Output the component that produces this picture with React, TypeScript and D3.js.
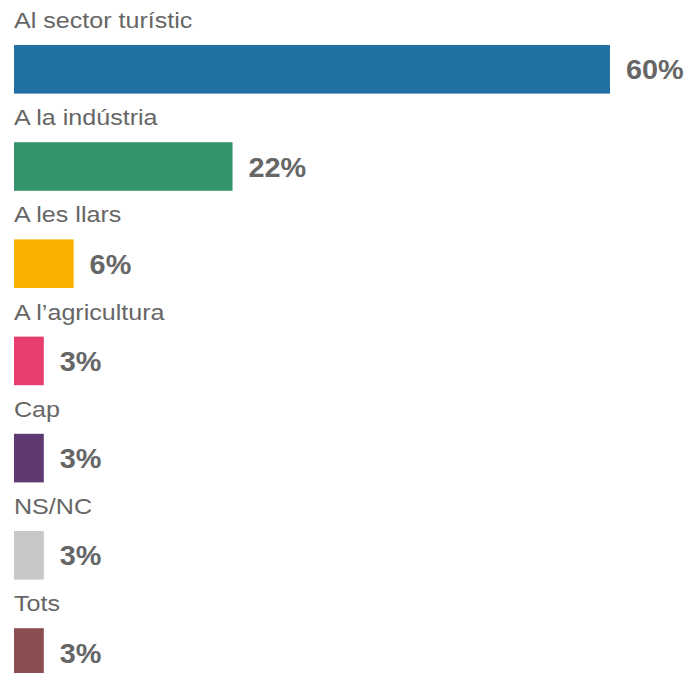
import React from "react";
import * as d3 from "d3";

const categories = [
  "Al sector turístic",
  "A la indústria",
  "A les llars",
  "A l’agricultura",
  "Cap",
  "NS/NC",
  "Tots",
];
const values = [60, 22, 6, 3, 3, 3, 3];
const valueLabels = ["60%", "22%", "6%", "3%", "3%", "3%", "3%"];
const colors = ["#2271a3", "#36946d", "#fbb000", "#e83e6f", "#5f3a72", "#c7c7c7", "#8a4d51"];

const W = 692;
const H = 673;

export default function App() {
  const x = d3.scaleLinear().domain([0, 60]).range([14, 610]);
  const y = d3
    .scaleBand<string>()
    .domain(categories)
    .range([20.7, 701.1])
    .paddingInner(0.5)
    .paddingOuter(0.25);
  const bw = y.bandwidth();

  return (
    <svg
      width={W}
      height={H}
      style={{ position: "absolute", left: 0, top: 0, background: "#fff" }}
      fontFamily="'Liberation Sans', Arial, Helvetica, sans-serif"
    >
      {categories.map((c, i) => {
        const y0 = y(c)!;
        return (
          <g key={c}>
            <text
              transform={`translate(14,${y0 - 17}) scale(1.14,1)`}
              fontSize={22}
              fill="#666"
            >
              {c}
            </text>
            <rect
              x={x(0)}
              y={y0}
              width={x(values[i]) - x(0)}
              height={bw}
              fill={colors[i]}
            />
            <text
              transform={`translate(${x(values[i]) + 16},${y0 + bw / 2 + 10}) scale(1.03,1)`}
              fontSize={28}
              fontWeight="bold"
              fill="#666"
            >
              {valueLabels[i]}
            </text>
          </g>
        );
      })}
    </svg>
  );
}
